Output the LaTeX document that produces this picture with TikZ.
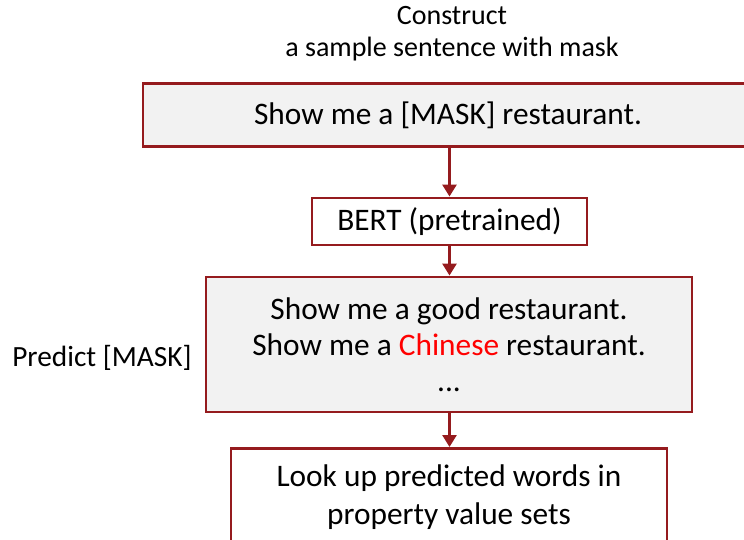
\documentclass[tikz,border=0pt]{standalone}
\usepackage{fontspec}
\setmainfont{Carlito}
\usetikzlibrary{arrows.meta}
\definecolor{boxred}{HTML}{951B1E}
\definecolor{boxgray}{HTML}{F2F2F2}
\definecolor{hilite}{HTML}{FF0000}
\tikzset{
  px/.style={x=0.75pt,y=-0.75pt},
  stepbox/.style={draw=boxred,line width=2.2pt,inner sep=0pt,align=center,
    font=\fontsize{23.5}{27}\selectfont},
  grayfill/.style={fill=boxgray},
  flow/.style={draw=boxred,line width=2pt,-{Triangle[width=10.5pt,length=9pt]}},
  caption/.style={font=\fontsize{21}{24}\selectfont,align=center}
}
\begin{document}
\begin{tikzpicture}[px]
\useasboundingbox (0,0) rectangle (744,540);
\clip (0,0) rectangle (744,540);
% caption above the input box
\node[caption] (cap) at (452,34) {Construct\\a sample sentence with mask};
% input sentence
\node[stepbox,grayfill,minimum width=610*0.75pt,minimum height=63*0.75pt]
  (input) at (448,115) {Show me a [MASK] restaurant.};
% language model
\node[stepbox,minimum width=275*0.75pt,minimum height=47*0.75pt]
  (bert) at (449.5,221.5) {BERT (pretrained)};
% candidate sentences
\node[stepbox,grayfill,minimum width=486*0.75pt,minimum height=135*0.75pt]
  (pred) at (449,344.5) {Show me a good restaurant.\\Show me a \textcolor{hilite}{Chinese} restaurant.\\...};
\node[caption,font=\fontsize{22}{24}\selectfont,anchor=center] (predlab) at (102,358) {Predict [MASK]};
% lookup step
\node[stepbox,minimum width=436*0.75pt,minimum height=130*0.75pt,anchor=north]
  (look) at (449,447) {};
\node[stepbox,draw=none,font=\fontsize{23.5}{28}\selectfont] (looktext) at (449,497) {Look up predicted words in\\property value sets};
% connectors
\draw[flow] (bert.north |- input.south) -- (bert.north);
\draw[flow] (bert.south) -- (pred.north -| bert.south);
\draw[flow] (pred.south -| bert.south) -- (look.north -| bert.south);
\end{tikzpicture}
\end{document}
